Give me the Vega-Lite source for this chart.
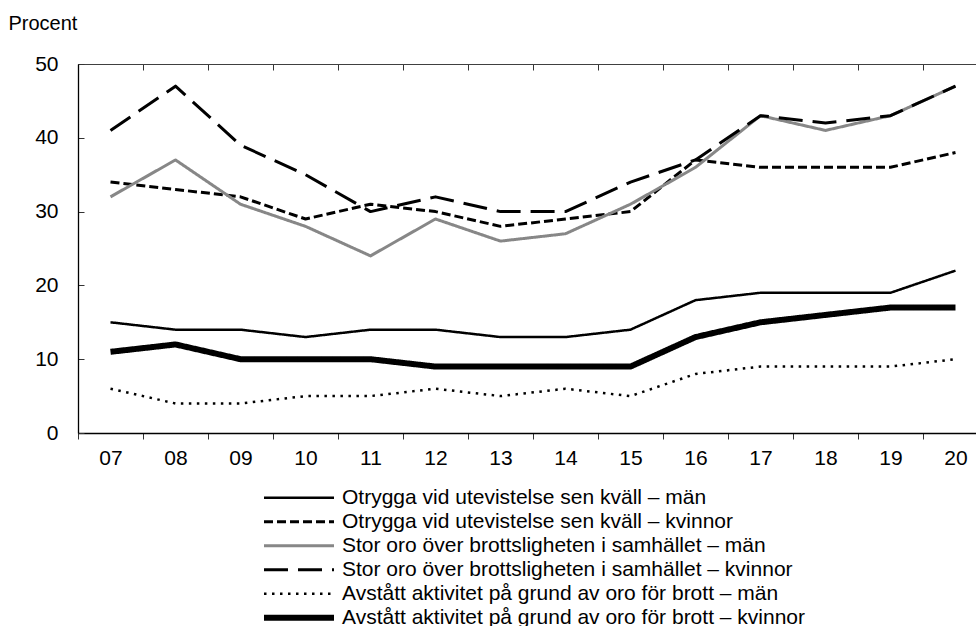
{
  "$schema": "https://vega.github.io/schema/vega-lite/v6.json",
  "width": 898,
  "height": 369,
  "autosize": "none",
  "padding": {"left": 78, "top": 64, "right": 0, "bottom": 193},
  "background": "white",
  "config": {"font": "Liberation Sans", "view": {"stroke": null}},
  "data": {"values": [
    {"year":"07","series":"Otrygga vid utevistelse sen kväll – män","value":15},
    {"year":"08","series":"Otrygga vid utevistelse sen kväll – män","value":14},
    {"year":"09","series":"Otrygga vid utevistelse sen kväll – män","value":14},
    {"year":"10","series":"Otrygga vid utevistelse sen kväll – män","value":13},
    {"year":"11","series":"Otrygga vid utevistelse sen kväll – män","value":14},
    {"year":"12","series":"Otrygga vid utevistelse sen kväll – män","value":14},
    {"year":"13","series":"Otrygga vid utevistelse sen kväll – män","value":13},
    {"year":"14","series":"Otrygga vid utevistelse sen kväll – män","value":13},
    {"year":"15","series":"Otrygga vid utevistelse sen kväll – män","value":14},
    {"year":"16","series":"Otrygga vid utevistelse sen kväll – män","value":18},
    {"year":"17","series":"Otrygga vid utevistelse sen kväll – män","value":19},
    {"year":"18","series":"Otrygga vid utevistelse sen kväll – män","value":19},
    {"year":"19","series":"Otrygga vid utevistelse sen kväll – män","value":19},
    {"year":"20","series":"Otrygga vid utevistelse sen kväll – män","value":22},
    {"year":"07","series":"Otrygga vid utevistelse sen kväll – kvinnor","value":34},
    {"year":"08","series":"Otrygga vid utevistelse sen kväll – kvinnor","value":33},
    {"year":"09","series":"Otrygga vid utevistelse sen kväll – kvinnor","value":32},
    {"year":"10","series":"Otrygga vid utevistelse sen kväll – kvinnor","value":29},
    {"year":"11","series":"Otrygga vid utevistelse sen kväll – kvinnor","value":31},
    {"year":"12","series":"Otrygga vid utevistelse sen kväll – kvinnor","value":30},
    {"year":"13","series":"Otrygga vid utevistelse sen kväll – kvinnor","value":28},
    {"year":"14","series":"Otrygga vid utevistelse sen kväll – kvinnor","value":29},
    {"year":"15","series":"Otrygga vid utevistelse sen kväll – kvinnor","value":30},
    {"year":"16","series":"Otrygga vid utevistelse sen kväll – kvinnor","value":37},
    {"year":"17","series":"Otrygga vid utevistelse sen kväll – kvinnor","value":36},
    {"year":"18","series":"Otrygga vid utevistelse sen kväll – kvinnor","value":36},
    {"year":"19","series":"Otrygga vid utevistelse sen kväll – kvinnor","value":36},
    {"year":"20","series":"Otrygga vid utevistelse sen kväll – kvinnor","value":38},
    {"year":"07","series":"Stor oro över brottsligheten i samhället – män","value":32},
    {"year":"08","series":"Stor oro över brottsligheten i samhället – män","value":37},
    {"year":"09","series":"Stor oro över brottsligheten i samhället – män","value":31},
    {"year":"10","series":"Stor oro över brottsligheten i samhället – män","value":28},
    {"year":"11","series":"Stor oro över brottsligheten i samhället – män","value":24},
    {"year":"12","series":"Stor oro över brottsligheten i samhället – män","value":29},
    {"year":"13","series":"Stor oro över brottsligheten i samhället – män","value":26},
    {"year":"14","series":"Stor oro över brottsligheten i samhället – män","value":27},
    {"year":"15","series":"Stor oro över brottsligheten i samhället – män","value":31},
    {"year":"16","series":"Stor oro över brottsligheten i samhället – män","value":36},
    {"year":"17","series":"Stor oro över brottsligheten i samhället – män","value":43},
    {"year":"18","series":"Stor oro över brottsligheten i samhället – män","value":41},
    {"year":"19","series":"Stor oro över brottsligheten i samhället – män","value":43},
    {"year":"20","series":"Stor oro över brottsligheten i samhället – män","value":47},
    {"year":"07","series":"Stor oro över brottsligheten i samhället – kvinnor","value":41},
    {"year":"08","series":"Stor oro över brottsligheten i samhället – kvinnor","value":47},
    {"year":"09","series":"Stor oro över brottsligheten i samhället – kvinnor","value":39},
    {"year":"10","series":"Stor oro över brottsligheten i samhället – kvinnor","value":35},
    {"year":"11","series":"Stor oro över brottsligheten i samhället – kvinnor","value":30},
    {"year":"12","series":"Stor oro över brottsligheten i samhället – kvinnor","value":32},
    {"year":"13","series":"Stor oro över brottsligheten i samhället – kvinnor","value":30},
    {"year":"14","series":"Stor oro över brottsligheten i samhället – kvinnor","value":30},
    {"year":"15","series":"Stor oro över brottsligheten i samhället – kvinnor","value":34},
    {"year":"16","series":"Stor oro över brottsligheten i samhället – kvinnor","value":37},
    {"year":"17","series":"Stor oro över brottsligheten i samhället – kvinnor","value":43},
    {"year":"18","series":"Stor oro över brottsligheten i samhället – kvinnor","value":42},
    {"year":"19","series":"Stor oro över brottsligheten i samhället – kvinnor","value":43},
    {"year":"20","series":"Stor oro över brottsligheten i samhället – kvinnor","value":47},
    {"year":"07","series":"Avstått aktivitet på grund av oro för brott – män","value":6},
    {"year":"08","series":"Avstått aktivitet på grund av oro för brott – män","value":4},
    {"year":"09","series":"Avstått aktivitet på grund av oro för brott – män","value":4},
    {"year":"10","series":"Avstått aktivitet på grund av oro för brott – män","value":5},
    {"year":"11","series":"Avstått aktivitet på grund av oro för brott – män","value":5},
    {"year":"12","series":"Avstått aktivitet på grund av oro för brott – män","value":6},
    {"year":"13","series":"Avstått aktivitet på grund av oro för brott – män","value":5},
    {"year":"14","series":"Avstått aktivitet på grund av oro för brott – män","value":6},
    {"year":"15","series":"Avstått aktivitet på grund av oro för brott – män","value":5},
    {"year":"16","series":"Avstått aktivitet på grund av oro för brott – män","value":8},
    {"year":"17","series":"Avstått aktivitet på grund av oro för brott – män","value":9},
    {"year":"18","series":"Avstått aktivitet på grund av oro för brott – män","value":9},
    {"year":"19","series":"Avstått aktivitet på grund av oro för brott – män","value":9},
    {"year":"20","series":"Avstått aktivitet på grund av oro för brott – män","value":10},
    {"year":"07","series":"Avstått aktivitet på grund av oro för brott – kvinnor","value":11},
    {"year":"08","series":"Avstått aktivitet på grund av oro för brott – kvinnor","value":12},
    {"year":"09","series":"Avstått aktivitet på grund av oro för brott – kvinnor","value":10},
    {"year":"10","series":"Avstått aktivitet på grund av oro för brott – kvinnor","value":10},
    {"year":"11","series":"Avstått aktivitet på grund av oro för brott – kvinnor","value":10},
    {"year":"12","series":"Avstått aktivitet på grund av oro för brott – kvinnor","value":9},
    {"year":"13","series":"Avstått aktivitet på grund av oro för brott – kvinnor","value":9},
    {"year":"14","series":"Avstått aktivitet på grund av oro för brott – kvinnor","value":9},
    {"year":"15","series":"Avstått aktivitet på grund av oro för brott – kvinnor","value":9},
    {"year":"16","series":"Avstått aktivitet på grund av oro för brott – kvinnor","value":13},
    {"year":"17","series":"Avstått aktivitet på grund av oro för brott – kvinnor","value":15},
    {"year":"18","series":"Avstått aktivitet på grund av oro för brott – kvinnor","value":16},
    {"year":"19","series":"Avstått aktivitet på grund av oro för brott – kvinnor","value":17},
    {"year":"20","series":"Avstått aktivitet på grund av oro för brott – kvinnor","value":17}
  ]},
  "layer": [
    {
      "mark": {"type": "line", "strokeJoin": "round", "strokeCap": "butt"},
      "encoding": {
        "x": {"field": "year", "type": "ordinal", "bandPosition": 0.5,
          "scale": {"type": "band", "paddingInner": 0, "paddingOuter": 0, "range": [0, 910]},
          "axis": {"title": null, "labelAngle": 0, "labelFontSize": 21, "labelColor": "#000", "labelPadding": 8,
                   "domainColor": "#000", "domainWidth": 1.3, "tickColor": "#333", "tickSize": 6, "tickBand": "extent", "tickWidth": 1}},
        "y": {"field": "value", "type": "quantitative",
          "scale": {"domain": [0, 50], "nice": false},
          "axis": {"values": [0, 10, 20, 30, 40, 50], "grid": false, "title": "Procent", "titleAngle": 0,
                   "titleAlign": "left", "titleBaseline": "alphabetic", "titleX": -70, "titleY": -35,
                   "titleFontSize": 20, "titleFontWeight": "normal", "titleColor": "#000",
                   "labelFontSize": 21, "labelColor": "#000", "labelPadding": 26,
                   "domainColor": "#000", "domainWidth": 1.3, "tickColor": "#333", "tickSize": -6}},
        "color": {"field": "series", "type": "ordinal",
          "scale": {"type": "ordinal", "domain": ["Otrygga vid utevistelse sen kväll – män", "Otrygga vid utevistelse sen kväll – kvinnor", "Stor oro över brottsligheten i samhället – män", "Stor oro över brottsligheten i samhället – kvinnor", "Avstått aktivitet på grund av oro för brott – män", "Avstått aktivitet på grund av oro för brott – kvinnor"],
                    "range": ["#000000", "#000000", "#878787", "#000000", "#000000", "#000000"]},
          "legend": {"orient": "none", "legendX": 183, "legendY": 422, "title": null, "padding": 0, "symbolType": "stroke", "symbolSize": 4900,
                     "clipHeight": 23.5, "rowPadding": 0, "symbolOffset": 0,
                     "labelFontSize": 21, "labelColor": "#000", "labelOffset": 5, "labelLimit": 800}},
        "strokeDash": {"field": "series", "type": "ordinal",
          "scale": {"type": "ordinal", "domain": ["Otrygga vid utevistelse sen kväll – män", "Otrygga vid utevistelse sen kväll – kvinnor", "Stor oro över brottsligheten i samhället – män", "Stor oro över brottsligheten i samhället – kvinnor", "Avstått aktivitet på grund av oro för brott – män", "Avstått aktivitet på grund av oro för brott – kvinnor"],
                    "range": [[1, 0], [9, 4], [1, 0], [24, 10], [2.5, 5.5], [1, 0]]}},
        "strokeWidth": {"field": "series", "type": "ordinal",
          "scale": {"type": "ordinal", "domain": ["Otrygga vid utevistelse sen kväll – män", "Otrygga vid utevistelse sen kväll – kvinnor", "Stor oro över brottsligheten i samhället – män", "Stor oro över brottsligheten i samhället – kvinnor", "Avstått aktivitet på grund av oro för brott – män", "Avstått aktivitet på grund av oro för brott – kvinnor"],
                    "range": [2.5, 3, 3, 3, 2.5, 6]}},
        "order": {"field": "year"}
      }
    },
    {
      "mark": {"type": "line", "opacity": 0},
      "encoding": {
        "x": {"field": "year", "type": "ordinal", "bandPosition": 0.5,
          "axis": {"title": null, "labels": false, "domain": false, "tickColor": "#333", "tickSize": -6, "tickBand": "extent", "tickWidth": 1}},
        "y": {"field": "value", "type": "quantitative",
          "axis": {"values": [0, 10, 20, 30, 40, 50], "grid": false, "title": "Procent", "titleAngle": 0,
                   "titleAlign": "left", "titleBaseline": "alphabetic", "titleX": -70, "titleY": -35,
                   "titleFontSize": 20, "titleFontWeight": "normal", "titleColor": "#000",
                   "labelFontSize": 21, "labelColor": "#000", "labelPadding": 26,
                   "domainColor": "#000", "domainWidth": 1.3, "tickColor": "#333", "tickSize": -6}},
        "detail": {"field": "series"}
      }
    },
    {
      "mark": {"type": "line", "opacity": 0},
      "encoding": {
        "x": {"field": "year", "type": "ordinal", "bandPosition": 0.5,
          "axis": {"orient": "top", "title": null, "labels": false, "ticks": false, "domain": true, "domainColor": "#404040", "domainWidth": 1}},
        "y": {"field": "value", "type": "quantitative",
          "axis": {"values": [0, 10, 20, 30, 40, 50], "grid": false, "title": "Procent", "titleAngle": 0,
                   "titleAlign": "left", "titleBaseline": "alphabetic", "titleX": -70, "titleY": -35,
                   "titleFontSize": 20, "titleFontWeight": "normal", "titleColor": "#000",
                   "labelFontSize": 21, "labelColor": "#000", "labelPadding": 26,
                   "domainColor": "#000", "domainWidth": 1.3, "tickColor": "#333", "tickSize": -6}},
        "detail": {"field": "series"}
      }
    }
  ],
  "resolve": {"axis": {"x": "independent"}}
}
